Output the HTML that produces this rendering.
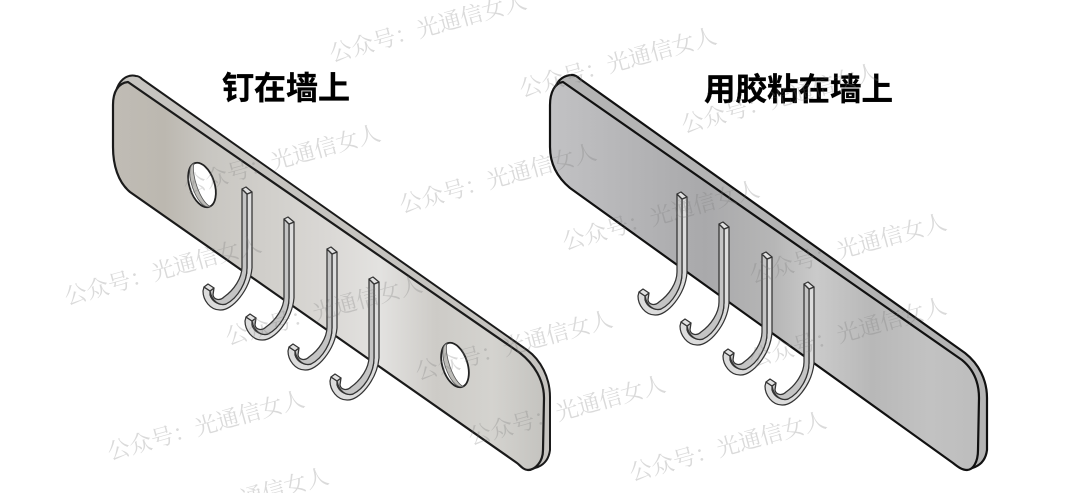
<!DOCTYPE html>
<html><head><meta charset="utf-8"><style>
html,body{margin:0;padding:0;background:#fff;width:1080px;height:493px;overflow:hidden}
svg{display:block;overflow:hidden}
.wm{font-family:"Liberation Serif","Noto Serif CJK SC",serif;font-size:22.6px;fill:#777;fill-opacity:.27}
.t{font-family:"Liberation Sans","Noto Sans CJK SC",sans-serif;font-size:32px;font-weight:700;fill:#000;stroke:#000;stroke-width:.3}
</style></head><body>
<svg width="1080" height="493" viewBox="0 0 1080 493" xmlns="http://www.w3.org/2000/svg">
<defs>
<linearGradient id="g1" gradientUnits="userSpaceOnUse" x1="113" y1="0" x2="544" y2="0">
<stop offset="0" stop-color="#c0bcb5"/><stop offset=".12" stop-color="#bcb8b0"/><stop offset=".22" stop-color="#c8c6c1"/><stop offset=".5" stop-color="#dad8d5"/><stop offset=".62" stop-color="#e3e2e0"/><stop offset=".75" stop-color="#cdcbc7"/><stop offset=".88" stop-color="#d4d3cf"/><stop offset="1" stop-color="#c4c3bf"/>
</linearGradient>
<linearGradient id="g2" gradientUnits="userSpaceOnUse" x1="550" y1="0" x2="980" y2="0">
<stop offset="0" stop-color="#c2c2c4"/><stop offset=".2" stop-color="#b4b4b6"/><stop offset=".36" stop-color="#a9a9ab"/><stop offset=".52" stop-color="#b6b6b6"/><stop offset=".62" stop-color="#cacaca"/><stop offset=".75" stop-color="#b8b8b8"/><stop offset=".88" stop-color="#c2c2c2"/><stop offset="1" stop-color="#bdbdbd"/>
</linearGradient>
<g id="hook" stroke="#333" stroke-width="1.25" stroke-linejoin="round">
<path fill="#dcdcdc" d="M247,194 L252,192 L252,268 C250,290 232,311 220,310 C210,310 203,300 203,291 L204,287 L210,291 L210,295 C212,302 220,306 226,304 C238,298 247,282 247,268 Z"/>
<path fill="#c4c4c4" d="M242,189 L247,194 L247,268 C247,282 238,298 226,304 C220,306 212,302 210,291 L214,288 L213,295 C214,300 220,301 224,297 C234,290 242,278 242,267 Z"/>
<path fill="#e2e2e2" d="M242,189 L246,187 L252,192 L247,194 Z"/>
<path fill="#e2e2e2" d="M204,287 L208,284 L214,288 L210,291 Z"/>
</g>
<g id="holeshape"><ellipse rx="12.5" ry="23" fill="#fff" stroke="#222" stroke-width="1.8"/></g>
</defs>

<!-- left plate -->
<path fill="#c6c4c0" stroke="#1a1a1a" stroke-width="2" stroke-linejoin="round" d="M117,88 C121,78 129,74 136,76 C138,76 140,77 142,79 L527,350 C541,360 550,378 550,397 L550,450 C549,458 545,464 538,467 L528,470 Z"/>
<path fill="url(#g1)" stroke="#1a1a1a" stroke-width="2.2" stroke-linejoin="round" d="M113,105 C113,92 118,83 128,82 L520,353 C534,364 544,380 544,398 L543,450 C543,462 535,470 528,470 C523,470 520,465 517,463 L130,192 C118,182 113,165 113,147 Z"/>
<g transform="translate(202,185) rotate(-18)"><use href="#holeshape"/><path d="M-1,-23 C-13,-23 -13,23 1,23 C-7,14 -7,-14 -1,-23Z" fill="#bdbcb8" stroke="#555" stroke-width=".8"/></g>
<g transform="translate(455,365) rotate(-18)"><use href="#holeshape"/><path d="M-1,-23 C-13,-23 -13,23 1,23 C-7,14 -7,-14 -1,-23Z" fill="#bdbcb8" stroke="#555" stroke-width=".8"/></g>
<use href="#hook"/>
<use href="#hook" transform="translate(42,30)"/>
<use href="#hook" transform="translate(85,60)"/>
<use href="#hook" transform="translate(127,90)"/>

<!-- right plate -->
<path fill="#b4b4b4" stroke="#111" stroke-width="2.2" stroke-linejoin="round" d="M555,88 C558,79 565,75 572,75 C575,75 578,77 580,79 L965,353 C979,364 987,380 987,398 L987,450 C986,458 982,464 975,467 L967,470 Z"/>
<path fill="url(#g2)" stroke="#111" stroke-width="2.2" stroke-linejoin="round" d="M550,105 C550,92 555,83 563,82 L962,360 C973,369 979,382 979,398 L978,450 C978,462 973,470 967,470 C962,470 958,467 953,463 L570,188 C558,178 550,165 550,147 Z"/>
<use href="#hook" transform="translate(435,5)"/>
<use href="#hook" transform="translate(477,35)"/>
<use href="#hook" transform="translate(520,65)"/>
<use href="#hook" transform="translate(562,95)"/>

<text class="t" x="222" y="99">钉在墙上</text>
<text class="t" x="704" y="100" style="font-size:31.5px">用胶粘在墙上</text>

<g class="wm">
<text transform="translate(332,62) rotate(-15.5)">公众号：光通信女人</text>
<text transform="translate(522,97) rotate(-15.5)">公众号：光通信女人</text>
<text transform="translate(684,133) rotate(-15.5)">公众号：光通信女人</text>
<text transform="translate(186,194) rotate(-15.5)">公众号：光通信女人</text>
<text transform="translate(402,213) rotate(-15.5)">公众号：光通信女人</text>
<text transform="translate(565,250) rotate(-15.5)">公众号：光通信女人</text>
<text transform="translate(752,283) rotate(-15.5)">公众号：光通信女人</text>
<text transform="translate(67,305) rotate(-15.5)">公众号：光通信女人</text>
<text transform="translate(228,345) rotate(-15.5)">公众号：光通信女人</text>
<text transform="translate(752,367) rotate(-15.5)">公众号：光通信女人</text>
<text transform="translate(418,380) rotate(-15.5)">公众号：光通信女人</text>
<text transform="translate(471,445) rotate(-15.5)">公众号：光通信女人</text>
<text transform="translate(110,460) rotate(-15.5)">公众号：光通信女人</text>
<text transform="translate(632,481) rotate(-15.5)">公众号：光通信女人</text>
<text transform="translate(243,507) rotate(-15.5)">通信女人</text>
</g>
</svg>
</body></html>
